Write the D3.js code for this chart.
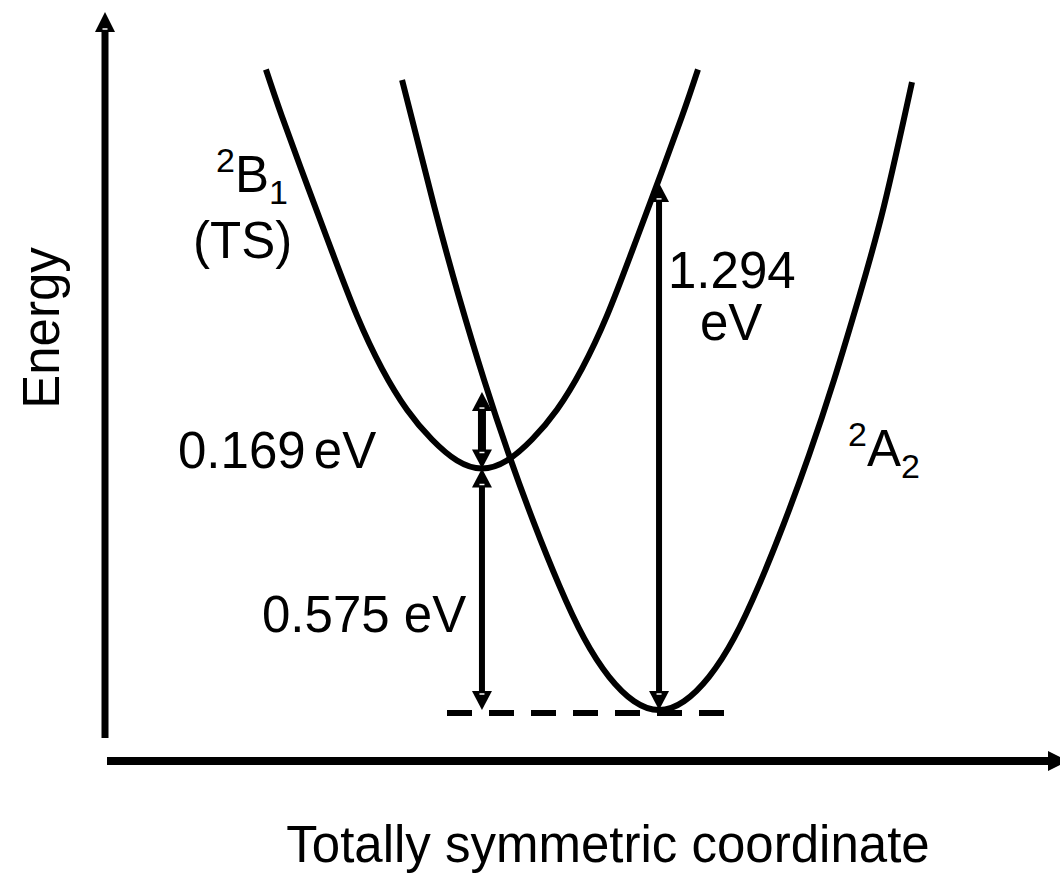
<!DOCTYPE html>
<html>
<head>
<meta charset="utf-8">
<script src="https://cdn.jsdelivr.net/npm/d3@7"></script>
<style>
body{margin:0;background:#fff}
svg{display:block}
text{font-family:"Liberation Sans",Arial,sans-serif;fill:#000}
</style>
</head>
<body>
<div id="chart"></div>
<script>
var width = 1060;
var height = 874;

// 2B1 (TS) curve: coordinate (arb. units) / energy (eV)
var b1Coord = [1.694, 1.863, 2.126, 2.389, 2.652, 2.915, 3.179, 3.442, 3.705, 3.968,
  4.231, 4.494, 4.757, 5.021, 5.284, 5.547, 5.810, 6.073, 6.242];
var b1Energy = [1.525, 1.413, 1.251, 1.092, 0.939, 0.813, 0.715, 0.644, 0.594, 0.575,
  0.594, 0.644, 0.715, 0.813, 0.939, 1.092, 1.251, 1.413, 1.525];

// 2A2 curve
var a2Coord = [3.127, 3.464, 3.727, 3.990, 4.253, 4.516, 4.779, 5.043, 5.306, 5.569, 5.832,
  6.095, 6.358, 6.621, 6.885, 7.148, 7.411, 7.674, 7.937, 8.200, 8.495];
var a2Energy = [1.500, 1.200, 0.983, 0.786, 0.607, 0.445, 0.298, 0.171, 0.079, 0.021, 0.000,
  0.021, 0.079, 0.171, 0.298, 0.445, 0.607, 0.786, 0.983, 1.200, 1.495];

// energy gap arrows
var gapLabels = ["0.169 eV", "0.575 eV", "1.294 eV"];
var gapCoord = [3.968, 3.968, 5.832];
var gapLow = [0.575, 0.000, 0.000];
var gapHigh = [0.757, 0.575, 1.255];

// dashed reference level
var refCoord = [3.60, 6.52];
var refEnergy = -0.007;

var x = d3.scaleLinear().domain([0, 10]).range([105, 1055]);
var y = d3.scaleLinear().domain([0, 1.7]).range([710, -4]);

var svg = d3.select("#chart").append("svg")
  .attr("width", width)
  .attr("height", height);

var line = d3.line()
  .x(function(d) { return x(d[0]); })
  .y(function(d) { return y(d[1]); })
  .curve(d3.curveNatural);

// triangle with its tip at (tx,ty), dir points towards the tip
function arrowHead(tx, ty, dir, len, half) {
  var bx = tx - dir[0] * len, by = ty - dir[1] * len;
  var px = -dir[1] * half, py = dir[0] * half;
  return "M" + tx + "," + ty + "L" + (bx + px) + "," + (by + py) + "L" + (bx - px) + "," + (by - py) + "Z";
}

// the little light nick at the base of each head, like in the original export
function nick(tx, ty, dir, len) {
  var bx = tx - dir[0] * (len - 3), by = ty - dir[1] * (len - 3);
  var px = -dir[1] * 2.5, py = dir[0] * 2.5;
  svg.append("line")
    .attr("x1", bx - px).attr("y1", by - py)
    .attr("x2", bx + px).attr("y2", by + py)
    .attr("stroke", "#fff").attr("stroke-width", 1.5);
}

var axisX = x.range()[0];
var axisY = 761;

// axes (plain arrows, no ticks)
svg.append("line")
  .attr("x1", axisX).attr("y1", 738)
  .attr("x2", axisX).attr("y2", 28)
  .attr("stroke", "#000").attr("stroke-width", 7);
svg.append("path").attr("d", arrowHead(axisX, 12, [0, -1], 20, 10)).attr("fill", "#000");
nick(axisX, 12, [0, -1], 20);

svg.append("line")
  .attr("x1", axisX + 2).attr("y1", axisY)
  .attr("x2", 1052).attr("y2", axisY)
  .attr("stroke", "#000").attr("stroke-width", 8);
svg.append("path").attr("d", arrowHead(1068, axisY, [1, 0], 20, 10)).attr("fill", "#000");

// curves
svg.append("path")
  .datum(d3.zip(b1Coord, b1Energy))
  .attr("d", line)
  .attr("fill", "none")
  .attr("stroke", "#000")
  .attr("stroke-width", 6);

svg.append("path")
  .datum(d3.zip(a2Coord, a2Energy))
  .attr("d", line)
  .attr("fill", "none")
  .attr("stroke", "#000")
  .attr("stroke-width", 6);

// dashed level
svg.append("line")
  .attr("x1", x(refCoord[0])).attr("y1", y(refEnergy))
  .attr("x2", x(refCoord[1])).attr("y2", y(refEnergy))
  .attr("stroke", "#000")
  .attr("stroke-width", 6)
  .attr("stroke-dasharray", "25,17");

// double headed gap arrows
var headLen = 19, headHalf = 10;
gapLabels.forEach(function(lab, i) {
  var cx = x(gapCoord[i]);
  var top = y(gapHigh[i]), bot = y(gapLow[i]);
  svg.append("line")
    .attr("class", "gap")
    .attr("x1", cx).attr("y1", top + headLen - 1)
    .attr("x2", cx).attr("y2", bot - headLen + 1)
    .attr("stroke", "#000")
    .attr("stroke-width", i == 0 ? 8 : 6);
  svg.append("path").attr("d", arrowHead(cx, top, [0, -1], headLen, headHalf)).attr("fill", "#000");
  svg.append("path").attr("d", arrowHead(cx, bot, [0, 1], headLen, headHalf)).attr("fill", "#000");
  nick(cx, top, [0, -1], headLen);
  nick(cx, bot, [0, 1], headLen);
});

// labels
var fs = 51, fsSmall = 34;

function label(tx, ty, str) {
  return svg.append("text").attr("x", tx).attr("y", ty).attr("font-size", fs).text(str);
}

label(178, 468, "0.169 eV").attr("word-spacing", -6);
label(262, 632, "0.575 eV");
label(668, 288, "1.294");
label(700, 340, "eV");
label(193, 258, "(TS)");

var tb = svg.append("text").attr("x", 216).attr("y", 192).attr("font-size", fs);
tb.append("tspan").attr("font-size", fsSmall).attr("dy", -20).text("2");
tb.append("tspan").attr("dy", 20).text("B");
tb.append("tspan").attr("font-size", fsSmall).attr("dy", 12).text("1");

var ta = svg.append("text").attr("x", 848).attr("y", 466).attr("font-size", fs);
ta.append("tspan").attr("font-size", fsSmall).attr("dy", -20).text("2");
ta.append("tspan").attr("dy", 20).text("A");
ta.append("tspan").attr("font-size", fsSmall).attr("dy", 12).text("2");

svg.append("text")
  .attr("transform", "translate(59,328) rotate(-90)")
  .attr("text-anchor", "middle")
  .attr("font-size", fs)
  .text("Energy");

svg.append("text")
  .attr("x", 608)
  .attr("y", 862)
  .attr("text-anchor", "middle")
  .attr("font-size", fs)
  .text("Totally symmetric coordinate");
</script>
</body>
</html>
